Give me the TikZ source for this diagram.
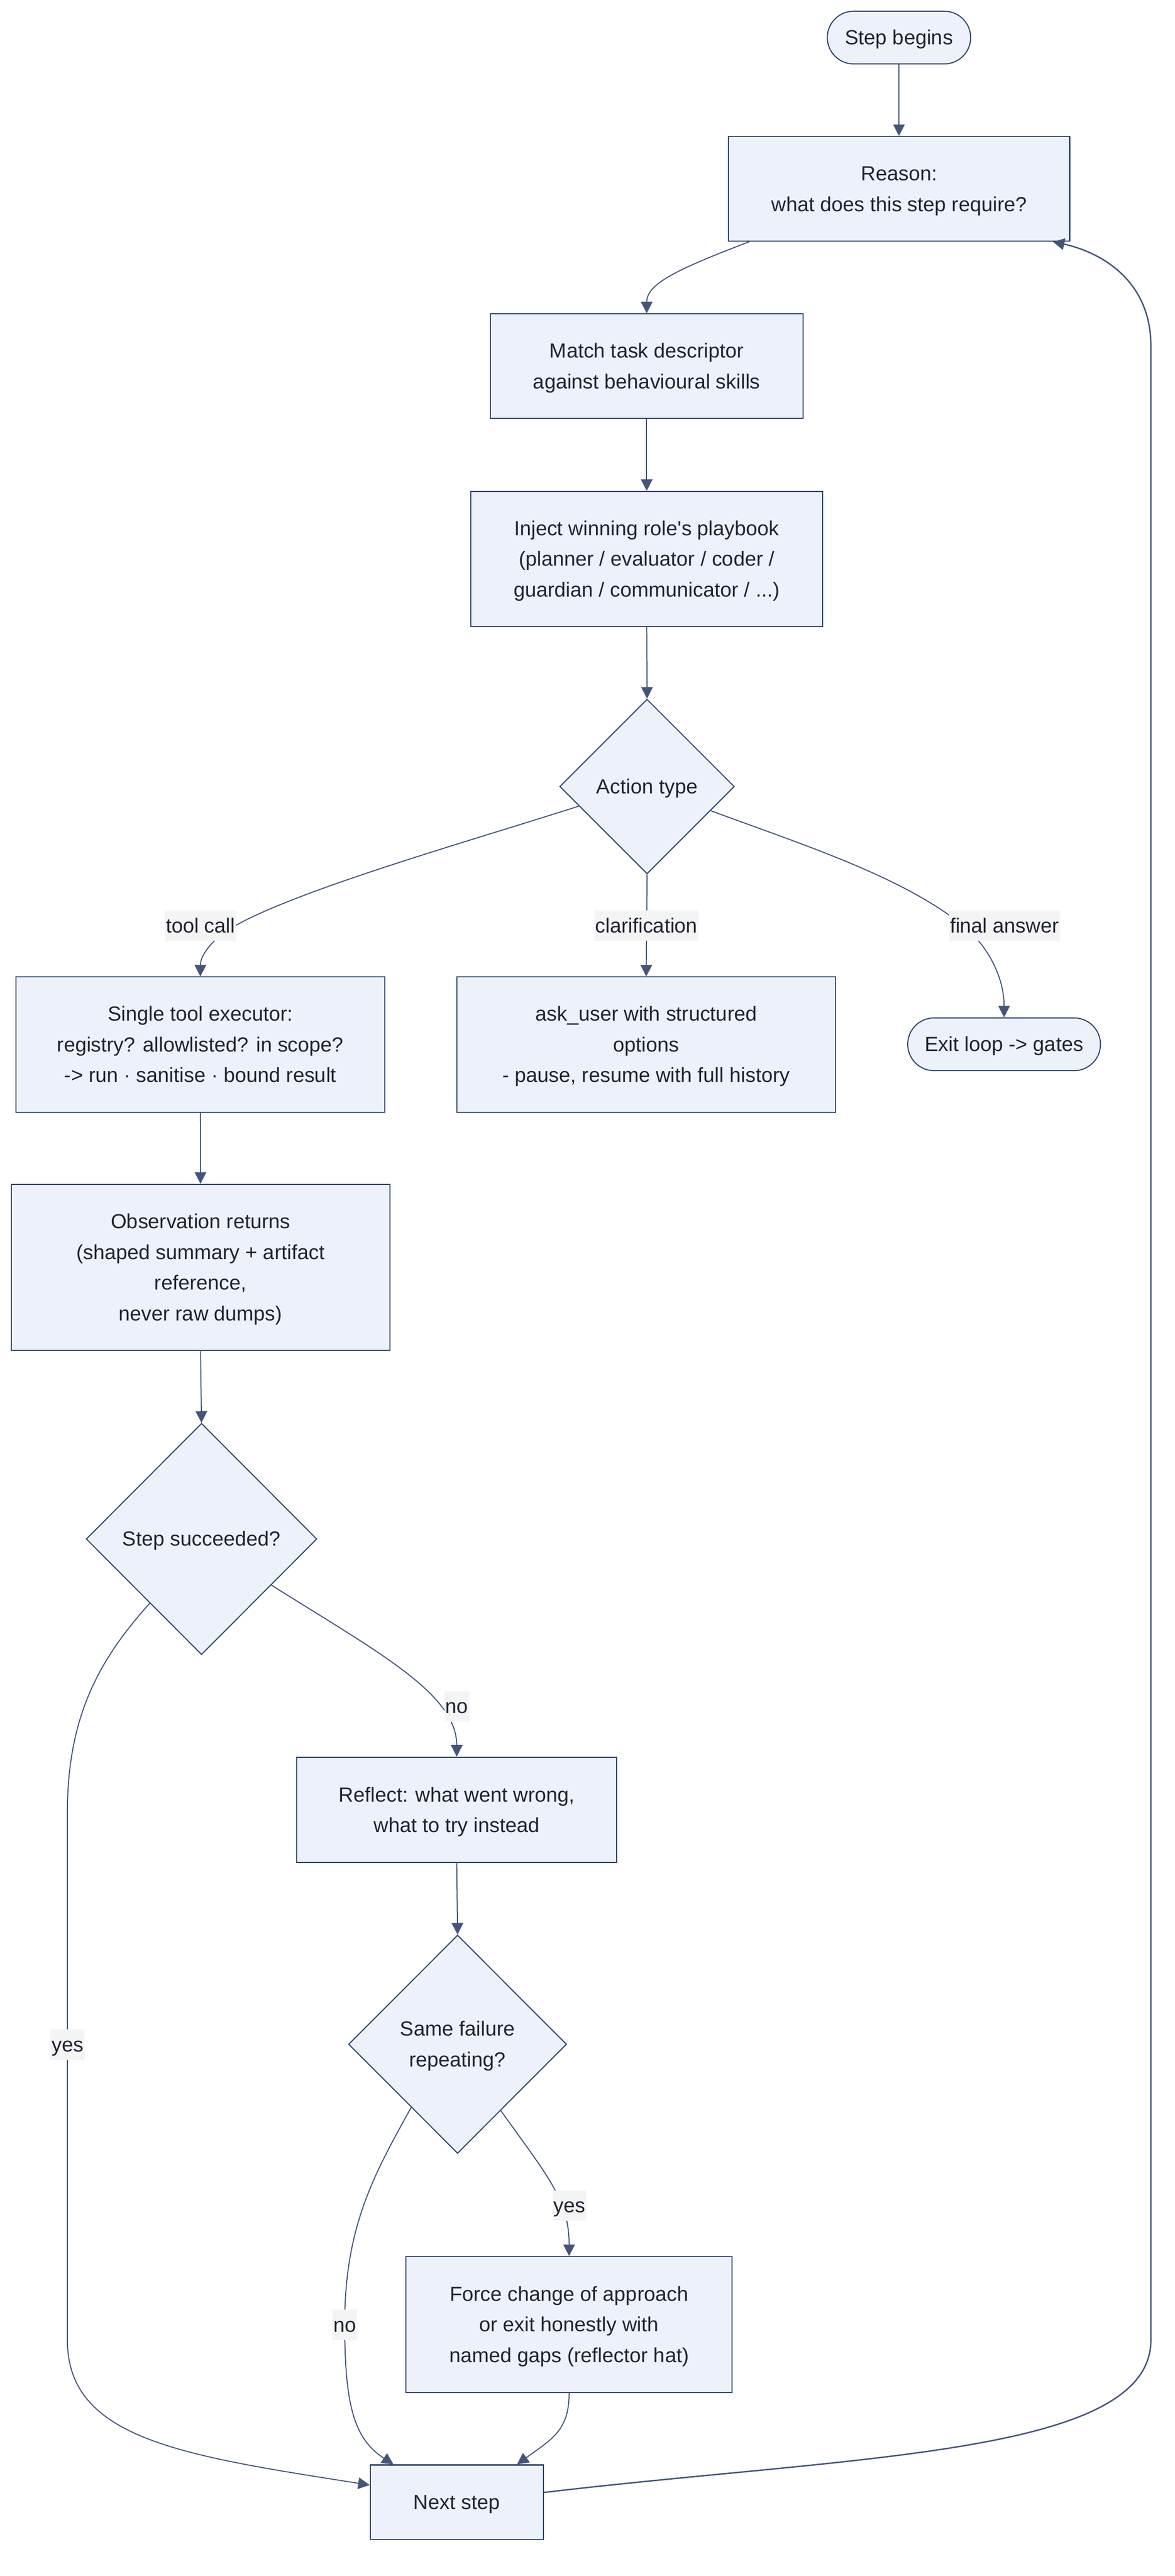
\documentclass[tikz,border=0pt]{standalone}
\usepackage{fontspec}
\setmainfont{Liberation Sans}
\usetikzlibrary{shapes.geometric,arrows.meta,calc}
\definecolor{nodefill}{HTML}{EDF2FA}
\definecolor{nodeline}{HTML}{2F466F}
\definecolor{edgeline}{HTML}{44557A}
\definecolor{labelbg}{HTML}{F4F4F4}
\definecolor{txt}{HTML}{1F2433}
\newcommand\myTopStrut{\rule{0pt}{13.6pt}}
\newcommand\myBotStrut{\rule[-5pt]{0pt}{5pt}}
\begin{document}
\begin{tikzpicture}[x=1pt,y=-1pt,
  every node/.style={text=txt, font=\fontsize{12.4}{18.6}\selectfont},
  box/.style={draw=nodeline, fill=nodefill, line width=0.65pt, inner sep=0pt, align=center},
  pill/.style={box, rounded corners=16pt, minimum height=32pt},
  decision/.style={box, diamond, aspect=1},
  lbl/.style={fill=labelbg, inner xsep=0.6pt, inner ysep=0pt, minimum height=18.4pt, text height=13.5pt, text depth=4.9pt},
  conn/.style={draw=edgeline, line width=0.62pt, -{Triangle[length=7pt,width=7pt]}},
]
\fill[white] (0,0) rectangle (713.06,1563.2);
\useasboundingbox (0,0) rectangle (713.06,1563.2);

% nodes
\node[pill, minimum width=87pt] (start) at (545.6,22.8) {\myTopStrut Step begins\myBotStrut};
\node[box, minimum width=207pt, minimum height=63.5pt] (reason) at (545.7,114.6) {\myTopStrut Reason:\\what does this step require?\myBotStrut};
\node[box, minimum width=190pt, minimum height=63.5pt] (match) at (392.5,222.2) {\myTopStrut Match task descriptor\\against behavioural skills\myBotStrut};
\node[box, minimum width=213.7pt, minimum height=82pt] (inject) at (392.5,339.2) {\myTopStrut Inject winning role\textquotesingle s playbook\\(planner / evaluator / coder /\\guardian / communicator / ...)\myBotStrut};
\node[decision, minimum width=106pt, minimum height=106pt] (action) at (392.7,477.3) {\myTopStrut Action type\myBotStrut};
\node[box, minimum width=224pt, minimum height=82pt] (single) at (121.6,633.9) {\myTopStrut Single tool executor:\\registry? allowlisted? in scope?\\-> run · sanitise · bound result\myBotStrut};
\node[box, minimum width=229.6pt, minimum height=82pt] (ask) at (392.2,633.9) {\myTopStrut ask\_user with structured\\options\\- pause, resume with full history\myBotStrut};
\node[pill, minimum width=117pt] (exit) at (609.4,633.7) {\myTopStrut Exit loop -> gates\myBotStrut};
\node[box, minimum width=229.7pt, minimum height=100.8pt] (obs) at (121.7,769.1) {\myTopStrut Observation returns\\(shaped summary + artifact\\reference,\\never raw dumps)\myBotStrut};
\node[decision, minimum width=140pt, minimum height=140.4pt] (succ) at (122.3,933.9) {\myTopStrut Step succeeded?\myBotStrut};
\node[box, minimum width=194pt, minimum height=64pt] (reflect) at (277.2,1098.3) {\myTopStrut Reflect: what went wrong,\\what to try instead\myBotStrut};
\node[decision, minimum width=132.3pt, minimum height=132.5pt] (same) at (277.7,1240.5) {\myTopStrut Same failure\\repeating?\myBotStrut};
\node[box, minimum width=197.8pt, minimum height=82.5pt] (force) at (345.4,1410.6) {\myTopStrut Force change of approach\\or exit honestly with\\named gaps (reflector hat)\myBotStrut};
\node[box, minimum width=105pt, minimum height=45.2pt] (next) at (277.2,1518.4) {\myTopStrut Next step\myBotStrut};

% connectors
\draw[conn] (start.south) -- (start.south |- reason.north);
\draw[conn] ([xshift=-90.9pt]reason.south) .. controls (412,163) and (392.5,172) .. (match.north);
\draw[conn] (match.south) -- (inject.north);
\draw[conn] (inject.south) -- (action.north);
\draw[conn] ($(action.west)!0.223!(action.south)$) .. controls (285,510.5) and (167.8,543.5) .. (136,566) .. controls (128,571.7) and (121.6,580) .. (single.north);
\draw[conn] (action.south) -- (ask.north);
\draw[conn] ($(action.east)!0.275!(action.south)$) .. controls (486.8,512.5) and (549.6,532.4) .. (586,563) .. controls (598.7,573.7) and (609.4,592) .. (exit.north);
\draw[conn] (single.south) -- (obs.north);
\draw[conn] (obs.south) -- (succ.north);
\draw[conn] ($(succ.east)!0.397!(succ.south)$) .. controls (230.6,1003.3) and (277.2,1028) .. (reflect.north);
\draw[conn] ($(succ.west)!0.553!(succ.south)$) .. controls (61.4,1005.8) and (40.9,1040) .. (40.9,1100) -- (40.9,1420) .. controls (40.9,1480) and (110,1490) .. ([yshift=10.4pt]next.west);
\draw[conn] (reflect.south) -- (same.north);
\draw[conn] ($(same.east)!0.605!(same.south)$) .. controls (332.8,1321.2) and (345.4,1335) .. (force.north);
\draw[conn] ($(same.west)!0.576!(same.south)$) .. controls (228,1318) and (209.2,1350) .. (209.2,1410) .. controls (209.2,1460) and (215,1480) .. ([xshift=-38.4pt]next.north);
\draw[conn] (force.south) .. controls (345.4,1475) and (335,1480) .. ([xshift=36.6pt]next.north);
\draw[conn, line width=0.85pt] ([yshift=5.9pt]next.east) .. controls (520,1490) and (698.5,1490) .. (698.5,1420) -- (698.5,210) .. controls (698.5,170) and (668,153) .. ([xshift=93.3pt]reason.south);

% edge labels
\node[lbl] (lt) at (121.7,561.6) {tool call};
\node[lbl] (lc) at (392.3,561.6) {clarification};
\node[lbl] (lf) at (609.6,561.6) {final answer};
\node[lbl] (ln1) at (277.2,1035.5) {no};
\node[lbl] (ly1) at (41,1240.7) {yes};
\node[lbl] (ly2) at (345.6,1338.4) {yes};
\node[lbl] (ln2) at (209.2,1410.8) {no};
\end{tikzpicture}
\end{document}
